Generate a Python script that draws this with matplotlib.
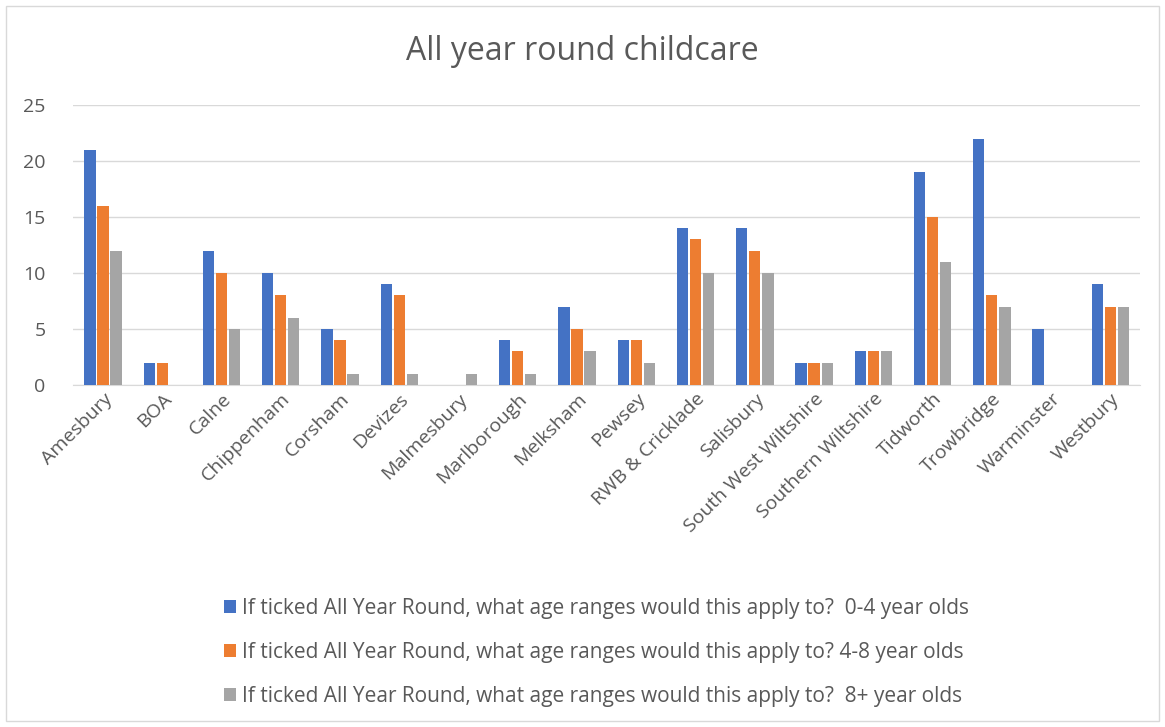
import matplotlib.pyplot as plt
import numpy as np
from matplotlib.patches import Rectangle

# Data
towns = ['Amesbury', 'BOA', 'Calne', 'Chippenham', 'Corsham', 'Devizes',
         'Malmesbury', 'Marlborough', 'Melksham', 'Pewsey', 'RWB & Cricklade',
         'Salisbury', 'South West Wiltshire', 'Southern Wiltshire', 'Tidworth',
         'Trowbridge', 'Warminster', 'Westbury']
age_0_4 = [21, 2, 12, 10, 5, 9, 0, 4, 7, 4, 14, 14, 2, 3, 19, 22, 5, 9]
age_4_8 = [16, 2, 10, 8, 4, 8, 0, 3, 5, 4, 13, 12, 2, 3, 15, 8, 0, 7]
age_8_plus = [12, 0, 5, 6, 1, 1, 1, 1, 3, 2, 10, 10, 2, 3, 11, 7, 0, 7]
labels = ['If ticked All Year Round, what age ranges would this apply to?  0-4 year olds',
          'If ticked All Year Round, what age ranges would this apply to? 4-8 year olds',
          'If ticked All Year Round, what age ranges would this apply to?  8+ year olds']

plt.rcParams['font.family'] = ['Open Sans', 'DejaVu Sans']
txt = '#595959'

fig = plt.figure(figsize=(11.65, 7.27), dpi=100)
ax = fig.add_axes([73.4 / 1165, 1 - 385 / 727, (1140 - 73.4) / 1165, 280 / 727])

x = np.arange(len(towns))
w = 0.19
off = 0.22
b1 = ax.bar(x - off, age_0_4, w, color='#4472C4', label=labels[0], zorder=3)
b2 = ax.bar(x, age_4_8, w, color='#ED7D31', label=labels[1], zorder=3)
b3 = ax.bar(x + off, age_8_plus, w, color='#A5A5A5', label=labels[2], zorder=3)

ax.set_xlim(-0.5, len(towns) - 0.5)
ax.set_ylim(0, 25)
ax.set_yticks(range(0, 26, 5))
ax.yaxis.grid(True, color='#D9D9D9', linewidth=1, zorder=0)
for s in ['top', 'right', 'left']:
    ax.spines[s].set_visible(False)
ax.spines['bottom'].set_color('#D9D9D9')
ax.tick_params(axis='both', length=0, colors=txt, labelsize=14)
ax.tick_params(axis='y', pad=20)
ax.set_xticks(x)
ax.set_xticklabels(towns, rotation=45, ha='right', rotation_mode='anchor')

fig.text(0.5, 1 - 52 / 727, 'All year round childcare', ha='center', va='center',
         fontsize=23, color=txt)

fig.legend(handles=[b1, b2, b3], loc='upper left', bbox_to_anchor=(205 / 1165, 1 - 579 / 727),
           frameon=False, fontsize=15, labelcolor=txt, handlelength=0.6, handleheight=0.6,
           handletextpad=0.3, labelspacing=1.1)

fig.patches.append(Rectangle((6 / 1165, 6 / 727), 1 - 12 / 1165, 1 - 12 / 727,
                             transform=fig.transFigure, fill=False,
                             edgecolor='#D9D9D9', linewidth=1))

fig.savefig('out.png', dpi=100)
